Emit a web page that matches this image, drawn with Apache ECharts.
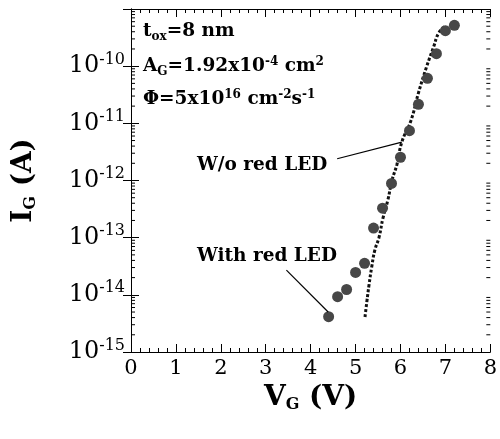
<!DOCTYPE html>
<html><head><meta charset="utf-8">
<script src="https://cdn.jsdelivr.net/npm/echarts/dist/echarts.min.js"></script>
<style>html,body{margin:0;padding:0;background:#fff}#c{width:500px;height:439px}</style>
</head><body><div id="c"></div>
<script>
// Measured gate current with red LED (scatter)
const withLedV = [4.4, 4.6, 4.8, 5.0, 5.2, 5.4, 5.6, 5.8, 6.0, 6.2, 6.4, 6.6, 6.8, 7.0, 7.2];
const withLedI = [4.15e-15, 9.3e-15, 1.24e-14, 2.46e-14, 3.56e-14, 1.47e-13, 3.28e-13, 8.87e-13,
                  2.55e-12, 7.43e-12, 2.15e-11, 6.14e-11, 1.65e-10, 4.17e-10, 5.19e-10];
// Gate current without red LED (dotted curve)
const noLedV = [5.21, 5.25, 5.30, 5.36, 5.43, 5.52, 5.61, 5.72, 5.81, 5.92, 6.03, 6.23, 6.40, 6.58, 6.74, 6.85, 6.98];
const noLedI = [4.1e-15, 7.5e-15, 1.5e-14, 3.1e-14, 6.1e-14, 1.0e-13, 2.2e-13, 4.6e-13, 1.0e-12,
                1.9e-12, 4.7e-12, 1.1e-11, 3.4e-11, 9.7e-11, 2.2e-10, 3.8e-10, 4.9e-10];
// Axis ranges / ticks
const xMin = 0, xMax = 8, xStep = 1;
const yMinExp = -15, yMaxExp = -9;
const yLabelExps = [-15, -14, -13, -12, -11, -10];
// Leader lines for annotations (data coordinates)
const leaderNoLed = [[4.59, 2.4e-12], [6.03, 4.7e-12]];
const leaderWithLed = [[3.46, 2.7e-14], [4.39, 5.0e-15]];

const FONT = 'DejaVu Serif';
const minorVals = [];
for (let e = yMinExp; e < yMaxExp; e++) {
  for (let k = 2; k <= 9; k++) minorVals.push([xMin, k * Math.pow(10, e)]);
}

const chart = echarts.init(document.getElementById('c'), null, {renderer: 'canvas'});
const axisCommon = {
  axisLine: {show: true, lineStyle: {color: '#000', width: 1}},
  axisTick: {show: true, inside: true, length: 8, lineStyle: {color: '#000'}},
  splitLine: {show: false}
};
const TXT = 18.5, SUB = 12;
chart.setOption({
  animation: false,
  backgroundColor: '#fff',
  grid: {left: 131, right: 8, top: 9, bottom: 87, containLabel: false},
  xAxis: [
    Object.assign({
      type: 'value', min: xMin, max: xMax, interval: xStep, position: 'bottom',
      minorTick: {show: true, splitNumber: 5, length: 4, lineStyle: {color: '#000'}},
      axisLabel: {color: '#000', fontFamily: FONT, fontSize: 21, margin: 6},
      name: '{b|V}{s|G}{b| (V)}', nameLocation: 'middle', nameGap: 24,
      nameTextStyle: {rich: {
        b: {fontFamily: FONT, fontWeight: 'bold', fontSize: 28, color: '#000'},
        s: {fontFamily: FONT, fontWeight: 'bold', fontSize: 16, color: '#000', padding: [14, 0, 0, 0]}
      }}
    }, axisCommon),
    Object.assign({
      type: 'value', min: xMin, max: xMax, interval: xStep, position: 'top',
      minorTick: {show: true, splitNumber: 5, length: 4, lineStyle: {color: '#000'}},
      axisLabel: {show: false}
    }, axisCommon)
  ],
  yAxis: [
    Object.assign({
      type: 'log', logBase: 10, min: Math.pow(10, yMinExp), max: Math.pow(10, yMaxExp), interval: 1,
      position: 'left',
      axisLabel: {
        margin: 6,
        formatter: function (v) {
          const e = Math.round(Math.log10(v));
          if (yLabelExps.indexOf(e) < 0) return '';
          return '{b|10}{s|' + e + '}';
        },
        rich: {
          b: {fontFamily: FONT, fontSize: 24, color: '#000'},
          s: {fontFamily: FONT, fontSize: 16, color: '#000', padding: [0, 0, 13, 0]}
        }
      },
      name: '{b|I}{s|G}{b| (A)}', nameLocation: 'middle', nameGap: 92, nameRotate: 90,
      nameTextStyle: {rich: {
        b: {fontFamily: FONT, fontWeight: 'bold', fontSize: 28, color: '#000'},
        s: {fontFamily: FONT, fontWeight: 'bold', fontSize: 16, color: '#000', padding: [14, 0, 0, 0]}
      }}
    }, axisCommon),
    Object.assign({
      type: 'log', logBase: 10, min: Math.pow(10, yMinExp), max: Math.pow(10, yMaxExp), interval: 1,
      position: 'right', axisLabel: {show: false}
    }, axisCommon)
  ],
  graphic: [
    {type: 'text', left: 143, top: 22, style: {
      text: '{b|t}{s|ox}{b|=8 nm}',
      rich: {
        b: {fontFamily: FONT, fontWeight: 'bold', fontSize: TXT, fill: '#000'},
        s: {fontFamily: FONT, fontWeight: 'bold', fontSize: SUB, fill: '#000', padding: [10, 0, 0, 0]}
      }}},
    {type: 'text', left: 143, top: 56, style: {
      text: '{b|A}{s|G}{b|=1.92x10}{p|-4}{b| cm}{p|2}',
      rich: {
        b: {fontFamily: FONT, fontWeight: 'bold', fontSize: TXT, fill: '#000'},
        s: {fontFamily: FONT, fontWeight: 'bold', fontSize: SUB, fill: '#000', padding: [10, 0, 0, 0]},
        p: {fontFamily: FONT, fontWeight: 'bold', fontSize: SUB, fill: '#000', padding: [0, 0, 9, 0]}
      }}},
    {type: 'text', left: 143, top: 89, style: {
      text: '{b|\u03A6=5x10}{p|16}{b| cm}{p|-2}{b|s}{p|-1}',
      rich: {
        b: {fontFamily: FONT, fontWeight: 'bold', fontSize: TXT, fill: '#000'},
        p: {fontFamily: FONT, fontWeight: 'bold', fontSize: SUB, fill: '#000', padding: [0, 0, 9, 0]}
      }}},
    {type: 'text', left: 197, top: 156, style: {
      text: 'W/o red LED', fontFamily: FONT, fontWeight: 'bold', fontSize: TXT, fill: '#000'}},
    {type: 'text', left: 197, top: 247, style: {
      text: 'With red LED', fontFamily: FONT, fontWeight: 'bold', fontSize: TXT, fill: '#000'}}
  ],
  series: [
    {
      type: 'line', name: 'W/o red LED', xAxisIndex: 0, yAxisIndex: 0,
      data: noLedV.map((v, i) => [v, noLedI[i]]),
      showSymbol: false, smooth: true,
      lineStyle: {color: '#111', width: 3, type: [3, 2]},
      markLine: {
        silent: true, symbol: ['none', 'none'], label: {show: false},
        lineStyle: {color: '#000', width: 1.2, type: 'solid'},
        data: [
          [{coord: leaderNoLed[0]}, {coord: leaderNoLed[1]}],
          [{coord: leaderWithLed[0]}, {coord: leaderWithLed[1]}]
        ]
      },
      z: 3
    },
    {
      type: 'scatter', name: 'With red LED', xAxisIndex: 0, yAxisIndex: 0,
      data: withLedV.map((v, i) => [v, withLedI[i]]),
      symbol: 'circle', symbolSize: 11,
      itemStyle: {color: '#474747', opacity: 1}, z: 4
    },
    {
      type: 'custom', xAxisIndex: 0, yAxisIndex: 0, silent: true,
      data: minorVals, encode: {x: 0, y: 1},
      renderItem: function (params, api) {
        const v = api.value(1);
        const pL = api.coord([xMin, v]);
        const pR = api.coord([xMax, v]);
        return {type: 'group', children: [
          {type: 'line', shape: {x1: pL[0], y1: pL[1], x2: pL[0] + 4, y2: pL[1]}, style: {stroke: '#000', lineWidth: 1}},
          {type: 'line', shape: {x1: pR[0], y1: pR[1], x2: pR[0] - 4, y2: pR[1]}, style: {stroke: '#000', lineWidth: 1}}
        ]};
      },
      z: 5
    }
  ]
});
</script>
</body></html>
